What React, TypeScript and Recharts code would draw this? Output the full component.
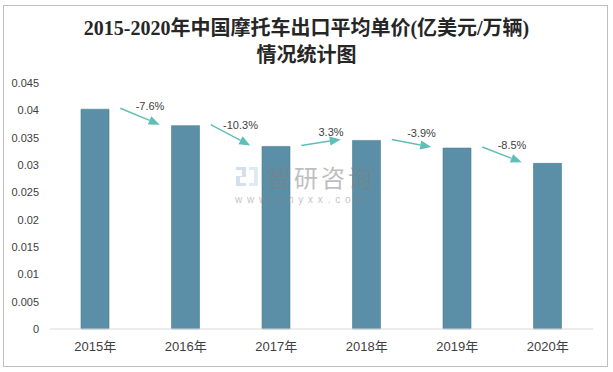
import { Bar, BarChart, ReferenceLine, XAxis, YAxis } from "recharts";

const years = ["2015年", "2016年", "2017年", "2018年", "2019年", "2020年"];
const unitPrice = [0.0402, 0.0372, 0.0334, 0.0345, 0.0331, 0.0303];
const changeLabels = ["-7.6%", "-10.3%", "3.3%", "-3.9%", "-8.5%"];
const yTicks = [0, 0.005, 0.01, 0.015, 0.02, 0.025, 0.03, 0.035, 0.04, 0.045];

const chartData = years.map((year, i) => ({ year, price: unitPrice[i] }));

const TEAL = "#5fbfb6";
const TEXT = "#404040";
const sans = "'Liberation Sans', Arial, 'Noto Sans CJK SC', sans-serif";

function arrowShape(label: string) {
  return (props: any) => {
    const { x1, y1, x2, y2 } = props;
    const sx = x1 + 25;
    const sy = y1 - 1;
    const ex = x2 - 26;
    const ey = y2 - 1;
    const ang = Math.atan2(ey - sy, ex - sx);
    const cos = Math.cos(ang);
    const sin = Math.sin(ang);
    const head = 11;
    const half = 4.5;
    const bx = ex - head * cos;
    const by = ey - head * sin;
    const pts = `${ex},${ey} ${bx + half * sin},${by - half * cos} ${bx - half * sin},${by + half * cos}`;
    return (
      <g>
        <line x1={sx} y1={sy} x2={bx} y2={by} stroke={TEAL} strokeWidth={1.5} />
        <polygon points={pts} fill={TEAL} />
        <text
          x={(sx + ex) / 2 + 10}
          y={(sy + ey) / 2 - 10}
          textAnchor="middle"
          dominantBaseline="central"
          fontSize={11}
          fontFamily={sans}
          fill={TEXT}
        >
          {label}
        </text>
      </g>
    );
  };
}

export default function App() {
  return (
    <div style={{ position: "absolute", left: 0, top: 0, width: 613, height: 372, background: "#fff" }}>
      <div
        style={{
          position: "absolute",
          left: 3,
          top: 5,
          width: 603,
          height: 360,
          border: "1px solid #bfbfbf",
        }}
      />
      <div
        style={{
          position: "absolute",
          left: 0,
          top: 15,
          width: 613,
          textAlign: "center",
          fontFamily: "'Liberation Serif', 'Noto Sans CJK SC', serif",
          fontWeight: "bold",
          fontSize: 20,
          lineHeight: "27px",
          color: "#262626",
        }}
      >
        2015-2020年中国摩托车出口平均单价(亿美元/万辆)
        <br />
        情况统计图
      </div>
      <BarChart
        width={613}
        height={372}
        data={chartData}
        margin={{ top: 83, right: 20, bottom: 13, left: 0 }}
        style={{ position: "absolute", left: 0, top: 0 }}
      >
        <XAxis
          dataKey="year"
          height={30}
          axisLine={{ stroke: "#d9d9d9" }}
          tickLine={false}
          tickMargin={7}
          tick={{ fontSize: 13, fill: TEXT, fontFamily: sans }}
        />
        <YAxis
          width={50}
          domain={[0, 0.045]}
          ticks={yTicks}
          axisLine={false}
          tickLine={false}
          tickMargin={5}
          tick={{ fontSize: 11, fill: TEXT, fontFamily: sans }}
        />
        <Bar dataKey="price" fill="#5b8fa7" stroke="#4b7d94" strokeWidth={0.6} barSize={28} isAnimationActive={false} />
        {changeLabels.map((label, i) => (
          <ReferenceLine
            key={label}
            segment={[
              { x: years[i], y: unitPrice[i] },
              { x: years[i + 1], y: unitPrice[i + 1] },
            ]}
            shape={arrowShape(label)}
          />
        ))}
      </BarChart>
      <svg width={613} height={372} style={{ position: "absolute", left: 0, top: 0, pointerEvents: "none" }}>
        <g opacity={0.5}>
          <path d="M236 167 h10 v10 h-6 v6 h6 v3 h-10 v-10 h6 v-6 h-6 z" fill="#a9c1dd" />
          <path d="M249 167 h9 v19 h-9 v-3 h5 v-13 h-5 z" fill="#c3d6e8" />
          <text x={267} y={176} dominantBaseline="central" fontSize={24} letterSpacing={3} fontFamily="'Noto Sans CJK SC', sans-serif" fill="#7f7f7f">
            智研咨询
          </text>
          <text x={235} y={199} dominantBaseline="central" fontSize={10} letterSpacing={4.8} fontFamily={sans} fill="#8a8a8a">
            www.chyxx.com
          </text>
        </g>
      </svg>
    </div>
  );
}
